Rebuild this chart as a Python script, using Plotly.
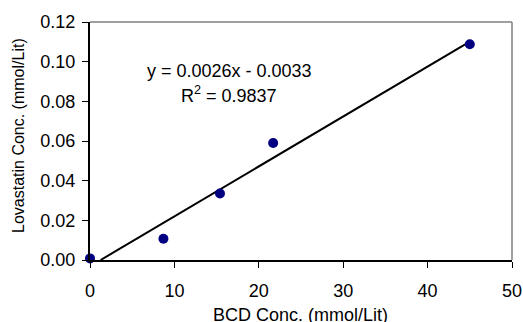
import numpy as np
import plotly.graph_objects as go

bcd = [0.0, 8.7, 15.4, 21.7, 45.0]
lova = [0.0008, 0.0107, 0.0335, 0.059, 0.1088]
eq_text = "y = 0.0026x - 0.0033"
r2_text = "R<sup>2</sup> = 0.9837"
x_title = "BCD Conc. (mmol/Lit)"
y_title = "Lovastatin Conc. (mmol/Lit)"

slope, intercept = np.polyfit(bcd, lova, 1)
trend_x = [-intercept / slope, max(bcd)]
trend_y = [slope * x + intercept for x in trend_x]

L, R, T, B = 90, 11, 22, 62
W, H = 523, 322
pw, ph = W - L - R, H - T - B


def px(x):
    return (x - L) / pw


def py(y):
    return 1 - (y - T) / ph


fig = go.Figure()
fig.add_trace(go.Scatter(x=trend_x, y=trend_y, mode="lines",
                         line=dict(color="black", width=2), showlegend=False, cliponaxis=False))
fig.add_trace(go.Scatter(x=bcd, y=lova, mode="markers",
                         marker=dict(color="#000080", size=10), showlegend=False, cliponaxis=False))

fam = "Liberation Sans, Arial"
fs = 18
fig.update_layout(
    width=W, height=H,
    margin=dict(l=L, r=R, t=T, b=B, autoexpand=False),
    paper_bgcolor="white", plot_bgcolor="white",
    font=dict(family=fam, size=fs, color="black"),
    xaxis=dict(range=[0, 50], tickvals=[0, 10, 20, 30, 40, 50], ticks="outside", ticklen=6,
               tickcolor="black", tickwidth=1, showline=True, linecolor="black", linewidth=2,
               showgrid=False, zeroline=False, tickfont=dict(size=fs), ticklabelstandoff=7,
               automargin=False),
    yaxis=dict(range=[0, 0.12], tickvals=[0, 0.02, 0.04, 0.06, 0.08, 0.10, 0.12],
               tickformat=".2f", ticks="outside", ticklen=6, tickcolor="black", tickwidth=1,
               showline=True, linecolor="black", linewidth=2, showgrid=False, zeroline=False,
               tickfont=dict(size=fs), ticklabelstandoff=3, automargin=False),
    shapes=[dict(type="line", xref="paper", yref="paper", x0=0, x1=1, y0=1, y1=1,
                 line=dict(color="#808080", width=1.5)),
            dict(type="line", xref="paper", yref="paper", x0=1, x1=1, y0=0, y1=1,
                 line=dict(color="#808080", width=1.5))],
)
fig.add_annotation(x=px(229), y=py(71), xref="paper", yref="paper", showarrow=False,
                   xanchor="center", yanchor="middle", text=eq_text, font=dict(size=fs))
fig.add_annotation(x=px(229), y=py(94), xref="paper", yref="paper", showarrow=False,
                   xanchor="center", yanchor="middle", text=r2_text, font=dict(size=fs))
fig.add_annotation(x=px(300), y=py(315), xref="paper", yref="paper", showarrow=False,
                   xanchor="center", yanchor="middle", text=x_title, font=dict(size=fs))
fig.add_annotation(x=px(18), y=py(136), xref="paper", yref="paper", showarrow=False,
                   xanchor="center", yanchor="middle", textangle=-90, text=y_title,
                   font=dict(size=16))
fig.write_html("out.html", config={"displayModeBar": False},
               post_script="document.body.style.margin='0';document.body.style.overflow='hidden';")
